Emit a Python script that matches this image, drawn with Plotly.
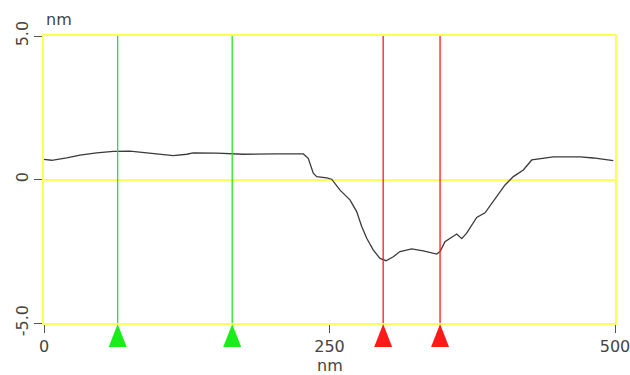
import plotly.graph_objects as go

# Profile data (nm vs nm)
pos_nm = [0, 6.7, 19.9, 31.5, 46.1, 60.7, 75.3, 84.1, 98.7, 113.2, 125.0, 130.7,
          151.2, 162.9, 174.5, 203.8, 227.1, 231.4, 235.8, 238.8, 247.5, 251.9,
          259.2, 267.9, 273.8, 278.2, 282.6, 288.4, 294.2, 299.5, 305.9, 311.7,
          322.0, 332.1, 343.9, 346.8, 351.1, 361.4, 365.8, 370.1, 378.9, 386.2,
          393.4, 403.7, 411.0, 419.7, 427.1, 434.3, 446.0, 469.4, 481.0, 498.5]
height_nm = [0.70, 0.67, 0.75, 0.85, 0.93, 0.98, 0.99, 0.95, 0.89, 0.83, 0.88, 0.93,
             0.92, 0.90, 0.88, 0.89, 0.89, 0.74, 0.22, 0.10, 0.06, 0.01,
             -0.37, -0.71, -1.12, -1.64, -2.05, -2.46, -2.75, -2.83, -2.69, -2.51,
             -2.42, -2.49, -2.60, -2.51, -2.17, -1.90, -2.06, -1.87, -1.32, -1.16,
             -0.77, -0.19, 0.10, 0.33, 0.68, 0.72, 0.79, 0.79, 0.75, 0.66]

green_cursors = [64.5, 164.8]
red_cursors = [297.0, 346.8]

x_ticks = [0, 250, 500]
x_tick_labels = ["0", "250", "500"]
y_ticks = [-5, 0, 5]
y_tick_labels = ["-5.0", "0", "5.0"]

FONT = "DejaVu Sans"
TXT = "#444444"
YEL = "#ffff5a"

fig = go.Figure()
fig.add_trace(go.Scatter(x=pos_nm, y=height_nm, mode="lines",
                         line=dict(color="#3a3a3a", width=1.3),
                         hoverinfo="skip", showlegend=False))

shapes = []
for xs, col in [(green_cursors, "#1aee1a"), (red_cursors, "#ff1a1a")]:
    for xv in xs:
        shapes.append(dict(type="line", xref="x", yref="paper", x0=xv, x1=xv,
                           y0=0, y1=1, line=dict(color=col, width=1.3), layer="above"))
        shapes.append(dict(type="path", xref="x", yref="paper",
                           xsizemode="pixel", ysizemode="pixel",
                           xanchor=xv, yanchor=0,
                           path="M -9,-24 L 9,-24 L 0,-1 Z",
                           fillcolor=col, line=dict(color=col, width=0),
                           layer="above"))

fig.update_layout(
    width=630, height=375,
    margin=dict(l=44, r=15, t=36, b=52),
    paper_bgcolor="white", plot_bgcolor="white",
    font=dict(family=FONT, size=16, color=TXT),
    shapes=shapes,
    showlegend=False,
    annotations=[
        dict(text="nm", xref="paper", yref="paper", x=0, y=1, xanchor="left",
             yanchor="bottom", showarrow=False, yshift=5, xshift=0,
             font=dict(family=FONT, size=16, color=TXT)),
        dict(text="nm", xref="paper", yref="paper", x=0.5, y=0, xanchor="center",
             yanchor="top", showarrow=False, yshift=-31,
             font=dict(family=FONT, size=16, color=TXT)),
    ],
)
fig.update_xaxes(range=[0, 500], tickvals=x_ticks, ticktext=x_tick_labels,
                 showgrid=False, zeroline=False, showline=True, mirror=True,
                 linecolor=YEL, linewidth=1.5, ticks="outside", ticklen=8,
                 tickcolor="#555555", tickwidth=1, automargin=False,
                 ticklabeloverflow="allow")
fig.update_yaxes(range=[-5, 5], tickvals=y_ticks, ticktext=y_tick_labels,
                 showgrid=False, zeroline=True, zerolinecolor=YEL,
                 zerolinewidth=1.5, showline=True, mirror=True,
                 linecolor=YEL, linewidth=1.5, ticks="outside", ticklen=8,
                 tickcolor="#555555", tickwidth=1, tickangle=-90, automargin=False,
                 ticklabeloverflow="allow")

fig.write_html("out.html")
